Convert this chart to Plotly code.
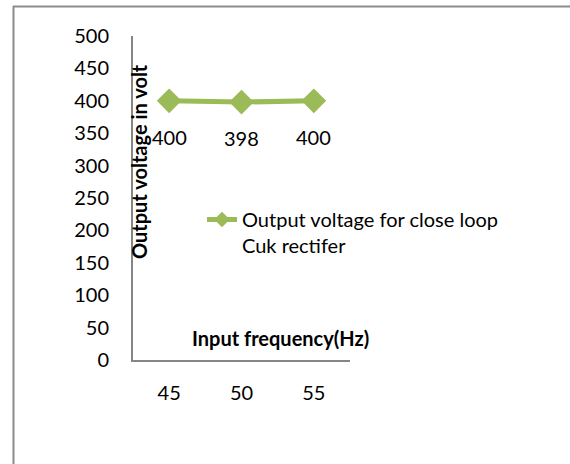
import plotly.graph_objects as go

freq = ["45", "50", "55"]
voltage = [400, 398, 400]
series_name = "Output voltage for close loop<br>Cuk rectifer"
x_title = "Input frequency(Hz)"
y_title = "Output voltage in volt"

W, H = 570, 464
L, R, T, B = 133, 350, 36, 360

def px(x):
    return (x - L) / (R - L)

def py(y):
    return (B - y) / (B - T)

FONT = "Lato"
FS = 20
fig = go.Figure()
fig.add_trace(go.Scatter(
    x=freq, y=voltage, name=series_name,
    mode="lines+markers",
    line=dict(color="#9BBB59", width=5),
    marker=dict(symbol="diamond", size=19, color="#9BBB59"),
))

# category axis: annotations use the serial index of each category
annotations = [
    dict(text=str(v), x=i, y=v, xref="x", yref="y", showarrow=False,
         yshift=-36, font=dict(family=FONT, size=FS, color="#000000"))
    for i, (f, v) in enumerate(zip(freq, voltage))
]
annotations += [
    dict(text="<b>" + y_title + "</b>", xref="paper", yref="paper",
         x=px(139), y=py(162), textangle=-90, showarrow=False,
         xanchor="center", yanchor="middle",
         font=dict(family=FONT, size=FS, color="#000000")),
    dict(text="<b>" + x_title + "</b>", xref="paper", yref="paper",
         x=px(280), y=py(338), showarrow=False,
         xanchor="center", yanchor="middle",
         font=dict(family=FONT, size=FS, color="#000000")),
]

fig.update_layout(
    width=W, height=H,
    margin=dict(l=L, r=W - R, t=T, b=H - B, pad=0),
    paper_bgcolor="white", plot_bgcolor="white",
    font=dict(family=FONT, size=FS, color="#000000"),
    showlegend=True,
    legend=dict(x=px(202), y=py(200), xanchor="left", yanchor="top",
                bgcolor="rgba(0,0,0,0)", valign="top", itemsizing="constant",
                font=dict(family=FONT, size=FS, color="#000000")),
    xaxis=dict(type="category", range=[-0.5, 2.5], showgrid=False,
               showline=True, linecolor="#868686", linewidth=2,
               ticks="", ticklabelstandoff=14, zeroline=False),
    yaxis=dict(range=[0, 500], dtick=50, showgrid=False,
               showline=True, linecolor="#868686", linewidth=2,
               ticks="", ticklabelstandoff=18, zeroline=False),
    annotations=annotations,
    shapes=[
        dict(type="line", xref="paper", yref="paper",
             x0=px(13), x1=px(572), y0=py(6.5), y1=py(6.5),
             line=dict(color="#8C8C8C", width=2)),
        dict(type="line", xref="paper", yref="paper",
             x0=px(13.5), x1=px(13.5), y0=py(6), y1=py(470),
             line=dict(color="#8C8C8C", width=2)),
    ],
)

fig.write_html("out.html", config={"displayModeBar": False},
               post_script="document.body.style.margin='0px';document.body.style.overflow='hidden';")
